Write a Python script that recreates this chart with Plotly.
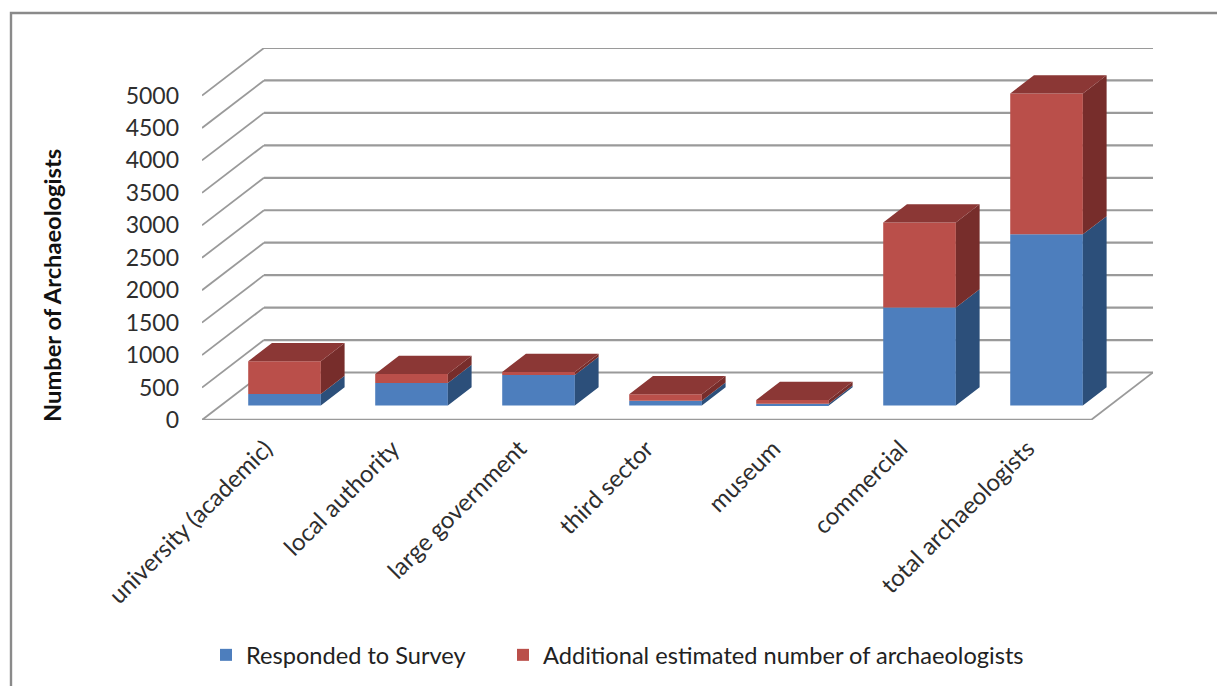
import plotly.graph_objects as go

categories = ["university (academic)", "local authority", "large government",
              "third sector", "museum", "commercial", "total archaeologists"]
responded = [177, 347, 470, 72, 26, 1510, 2636]
additional = [503, 138, 46, 101, 59, 1308, 2170]
y_ticks = [0, 500, 1000, 1500, 2000, 2500, 3000, 3500, 4000, 4500, 5000]

FONT = "Lato"
TEXT = "#2e2e2e"
GRID = "#9a9a9a"
BLUE, BLUE_SIDE = "#4d7ebd", "#2c4f7a"
RED, RED_SIDE, RED_TOP = "#ba4f4a", "#772d2b", "#8b3735"

# Oblique projection of the 3-D floor, in axis units
DEPTH_X = 0.488
DEPTH_Y = 732
BAR_W = 0.572
NEAR, FAR = 0.307, 0.69
n = len(categories)


def side_faces(lo, hi):
    xs, ys = [], []
    for i, (a, b) in enumerate(zip(lo, hi)):
        x0 = i + NEAR * DEPTH_X + BAR_W / 2
        dx = (FAR - NEAR) * DEPTH_X
        dy = (FAR - NEAR) * DEPTH_Y
        base = NEAR * DEPTH_Y
        xs += [x0, x0 + dx, x0 + dx, x0, x0, None]
        ys += [base + a, base + a + dy, base + b + dy, base + b, base + a, None]
    return xs, ys


def top_faces(tops):
    xs, ys = [], []
    for i, t in enumerate(tops):
        x0 = i + NEAR * DEPTH_X - BAR_W / 2
        dx = (FAR - NEAR) * DEPTH_X
        dy = (FAR - NEAR) * DEPTH_Y
        base = NEAR * DEPTH_Y
        xs += [x0, x0 + BAR_W, x0 + BAR_W + dx, x0 + dx, x0, None]
        ys += [base + t, base + t, base + t + dy, base + t + dy, base + t, None]
    return xs, ys


totals = [a + b for a, b in zip(responded, additional)]
bar_x = [i + NEAR * DEPTH_X for i in range(n)]
bar_base = NEAR * DEPTH_Y

fig = go.Figure()
fig.add_bar(x=bar_x, y=responded, base=[bar_base] * n, width=BAR_W, name="Responded to Survey",
            marker=dict(color=BLUE, line_width=0), hoverinfo="skip", legend="legend")
fig.add_bar(x=bar_x, y=additional, base=[bar_base + r for r in responded], width=BAR_W,
            name="Additional estimated number of archaeologists",
            marker=dict(color=RED, line_width=0), hoverinfo="skip", legend="legend2")

for (xs, ys), col in [(side_faces([0] * n, responded), BLUE_SIDE),
                      (side_faces(responded, totals), RED_SIDE),
                      (top_faces(totals), RED_TOP)]:
    fig.add_scatter(x=xs, y=ys, mode="lines", fill="toself", fillcolor=col,
                    line=dict(width=0, color=col), showlegend=False, hoverinfo="skip")

shapes = []
x_left, x_right = -0.5, n - 0.5
for v in y_ticks:
    shapes.append(dict(type="line", xref="x", yref="y", layer="below",
                       x0=x_left, y0=v, x1=x_left + DEPTH_X, y1=v + DEPTH_Y,
                       line=dict(color=GRID, width=1.8)))
    shapes.append(dict(type="line", xref="x", yref="y", layer="below",
                       x0=x_left + DEPTH_X, y0=v + DEPTH_Y, x1=x_right + DEPTH_X, y1=v + DEPTH_Y,
                       line=dict(color=GRID, width=2.2)))
# floor outline
shapes.append(dict(type="line", xref="x", yref="y", layer="below", x0=x_left, y0=0, x1=x_right, y1=0,
                   line=dict(color=GRID, width=2.4)))
shapes.append(dict(type="line", xref="x", yref="y", layer="below", x0=x_right, y0=0,
                   x1=x_right + DEPTH_X, y1=DEPTH_Y, line=dict(color=GRID, width=1.8)))

W, H = 1217, 686
L, T, R, B = 202, 48, 1153, 420


def px(v):
    return (v - L) / (R - L)


def py(v):
    return (B - v) / (B - T)


shapes.append(dict(type="path", xref="paper", yref="paper", layer="below",
                   path=f"M {px(11)} {py(695)} L {px(11)} {py(13)} L {px(1225)} {py(13)}",
                   line=dict(color="#8a8a8a", width=2.4)))

legend_common = dict(orientation="h", xref="container", yref="container", xanchor="left",
                     y=1 - 655 / H, yanchor="middle", font=dict(size=23.6, color="#222222"),
                     itemclick=False, itemdoubleclick=False, bgcolor="rgba(0,0,0,0)")

fig.update_layout(
    width=W, height=H, autosize=False, margin=dict(l=L, r=W - R, t=T, b=H - B),
    paper_bgcolor="white", plot_bgcolor="white", barmode="overlay", shapes=shapes,
    font=dict(family=FONT, color=TEXT, size=23),
    xaxis=dict(range=[x_left, x_right + DEPTH_X], tickvals=list(range(n)), ticktext=categories,
               tickangle=-45, showgrid=False, zeroline=False, showline=False, ticks="",
               ticklabelstandoff=9, tickfont=dict(size=24), automargin=False),
    yaxis=dict(range=[0, 5000 + DEPTH_Y], tickvals=y_ticks, showgrid=False, zeroline=False,
               showline=False, ticks="", ticklabelstandoff=22, tickfont=dict(size=23),
               automargin=False),
    annotations=[dict(text="<b>Number of Archaeologists</b>", textangle=-90, showarrow=False,
                      xref="paper", yref="paper", x=px(52), y=py(286),
                      xanchor="center", yanchor="middle", font=dict(size=23.7, color="#111111"))],
    legend=dict(x=206 / W, **legend_common),
    legend2=dict(x=503 / W, **legend_common),
)
fig.write_html("out.html", config=dict(displayModeBar=False),
               post_script="document.body.style.margin='0';document.body.style.overflow='hidden';")
